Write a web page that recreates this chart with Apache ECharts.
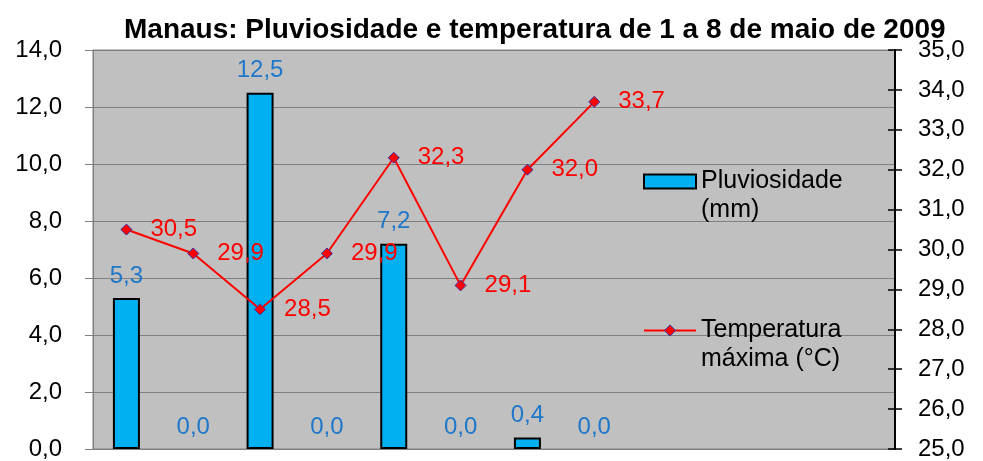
<!DOCTYPE html>
<html>
<head>
<meta charset="utf-8">
<script src="https://cdn.jsdelivr.net/npm/echarts@6/dist/echarts.min.js"></script>
<style>
  html, body { margin: 0; padding: 0; background: #fff; }
  #chart { width: 983px; height: 461px; }
</style>
</head>
<body>
<div id="chart"></div>
<script>
// dias 1 a 8 de maio de 2009
const days = ['1', '2', '3', '4', '5', '6', '7', '8'];
const rain = [5.3, 0.0, 12.5, 0.0, 7.2, 0.0, 0.4, 0.0];
const tempMax = [30.5, 29.9, 28.5, 29.9, 32.3, 29.1, 32.0, 33.7];
const leftTicks = [0, 14, 2];
const rightTicks = [25, 35, 1];

// the legend sits where 4 more (empty) category slots would be
const slots = days.concat(['', '', '', '']);

const font = 'Liberation Sans, Arial, sans-serif';
const fmt = v => v.toFixed(1).replace('.', ',');

// zero bars get no outline, like in the original
const rainData = rain.map(v => v === 0 ? { value: v, itemStyle: { borderWidth: 0 } } : v);

const rainName = 'Pluviosidade\n(mm)';
const tempName = 'Temperatura\nmáxima (°C)';

const chart = echarts.init(document.getElementById('chart'));

let option = {
  animation: false,
  backgroundColor: '#fff',
  title: {
    text: 'Manaus: Pluviosidade e temperatura de 1 a 8 de maio de 2009',
    left: 119,
    top: 11,
    textStyle: { fontFamily: font, fontSize: 28, fontWeight: 'bold', color: '#000' }
  },
  grid: {
    left: 93, right: 88, top: 50, bottom: 10,
    show: true,
    backgroundColor: '#C0C0C0',
    borderColor: '#808080',
    borderWidth: 1
  },
  legend: {
    orient: 'vertical',
    left: 643,
    top: 138,
    padding: 0,
    itemWidth: 52,
    itemHeight: 14,
    itemGap: 62,
    data: [
      { name: rainName, icon: 'rect' },
      { name: tempName, itemStyle: { color: '#FF0000', borderColor: '#3333AA', borderWidth: 1 } }
    ],
    // blank first line so the icon lines up with the first text line
    formatter: name => '\n' + name,
    textStyle: { fontFamily: font, fontSize: 25, color: '#000', lineHeight: 29 }
  },
  xAxis: {
    type: 'category',
    data: slots,
    axisLine: { show: false },
    axisTick: { show: false },
    axisLabel: { show: false }
  },
  yAxis: [
    {
      type: 'value',
      min: leftTicks[0], max: leftTicks[1], interval: leftTicks[2],
      axisLine: { show: true, lineStyle: { color: '#808080' } },
      axisTick: { show: true, length: 8, lineStyle: { color: '#808080' } },
      splitLine: { lineStyle: { color: '#808080', width: 1 } },
      axisLabel: { margin: 31, fontFamily: font, fontSize: 24, color: '#000', formatter: fmt }
    },
    {
      type: 'value',
      position: 'right',
      min: rightTicks[0], max: rightTicks[1], interval: rightTicks[2],
      axisLine: { show: true, lineStyle: { color: '#000', width: 2 } },
      axisTick: { show: true, length: 7, lineStyle: { color: '#000', width: 1.5 } },
      splitLine: { show: false },
      axisLabel: { margin: 23, fontFamily: font, fontSize: 24, color: '#000', formatter: fmt }
    },
    {
      // inner half of the crossing ticks on the right axis
      type: 'value',
      position: 'right',
      min: rightTicks[0], max: rightTicks[1], interval: rightTicks[2],
      axisLine: { show: false },
      axisTick: { show: true, inside: true, length: 7, lineStyle: { color: '#000', width: 1.5 } },
      splitLine: { show: false },
      axisLabel: { show: false }
    }
  ],
  series: [
    {
      name: rainName,
      type: 'bar',
      yAxisIndex: 0,
      data: rainData,
      barWidth: 27,
      itemStyle: { color: '#00B0F0', borderColor: '#000', borderWidth: 2 },
      label: {
        show: true,
        position: 'top',
        distance: 10,
        fontFamily: font,
        fontSize: 24,
        color: '#1F77C9',
        formatter: p => fmt(p.value)
      }
    },
    {
      name: tempName,
      type: 'line',
      yAxisIndex: 1,
      data: tempMax,
      symbol: 'diamond',
      symbolSize: 11,
      lineStyle: { color: '#FF0000', width: 2 },
      itemStyle: { color: '#FF0000', borderColor: '#3333AA', borderWidth: 1 },
      label: {
        show: true,
        position: 'right',
        distance: 18,
        fontFamily: font,
        fontSize: 24,
        color: '#FF0000',
        formatter: p => fmt(p.value)
      }
    }
  ]
};

chart.setOption(option);
</script>
</body>
</html>
